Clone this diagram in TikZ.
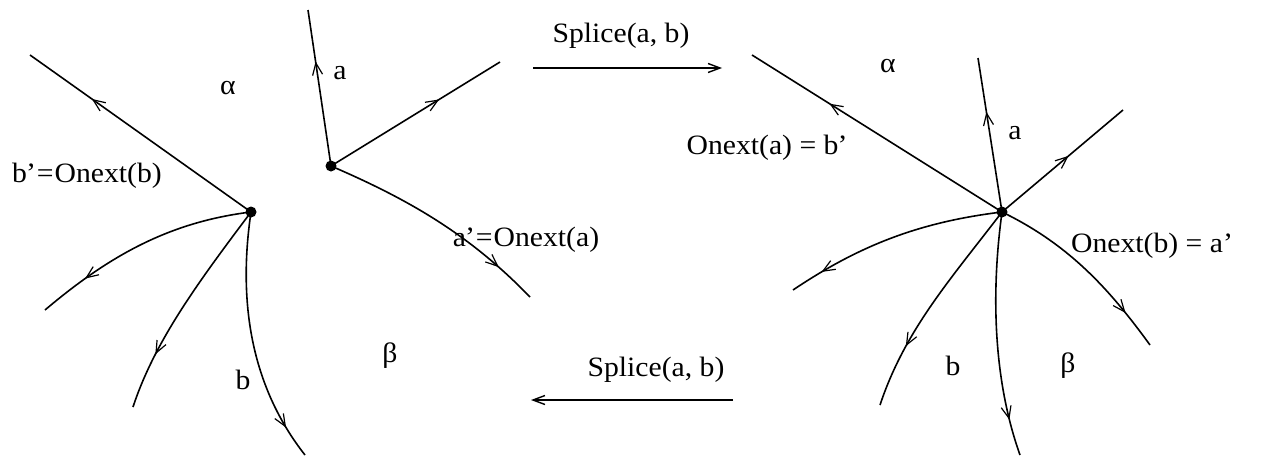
\documentclass[tikz,border=0pt]{standalone}
\usepackage{fontspec}
\setmainfont{Liberation Serif}[FakeStretch=1.06]
\usetikzlibrary{arrows.meta,decorations.markings}
\tikzset{
  x=1pt,y=-1pt,
  edge/.style={line width=1.6pt},
  midarr/.style={postaction={decorate},decoration={markings,mark=at position #1 with {\arrow{Straight Barb[length=12pt,width=10pt,line width=1.2pt]}}}},
  vdot/.style={circle,fill=black,inner sep=0pt,minimum size=11pt},
  lbl/.style={inner sep=0pt,font=\fontsize{28}{32}\selectfont},
  op/.style={line width=1.4pt,-{Straight Barb[length=12pt,width=9pt]}}
}
\begin{document}
\begin{tikzpicture}
\useasboundingbox (0,0) rectangle (1282,455);
% ---------- left diagram ----------
\node[vdot] (vl) at (251,212) {};
\node[vdot] (v2) at (331,166) {};
\coordinate (l1) at (30,55);
\coordinate (l2) at (45,310);
\coordinate (l3) at (133,407);
\coordinate (l4) at (305,455);
\coordinate (a1) at (308,10);
\coordinate (a2) at (500,62);
\coordinate (a3) at (530,297);
\draw[edge,midarr=0.72] (vl.center) -- (l1);
\draw[edge,midarr=0.78] (vl.center) .. controls (170,222) and (110,255) .. (l2);
\draw[edge,midarr=0.75] (vl.center) .. controls (200,280) and (155,340) .. (l3);
\draw[edge,midarr=0.87] (vl.center) .. controls (238,300) and (250,385) .. (l4);
\draw[edge,midarr=0.67] (v2.center) -- (a1);
\draw[edge,midarr=0.64] (v2.center) -- (a2);
\draw[edge,midarr=0.82] (v2.center) .. controls (410,200) and (470,235) .. (a3);
\node[lbl] (alphaL) at (228,88) {α};
\node[lbl] (betaL) at (390,356) {β};
\node[lbl] (la) at (340,73) {a};
\node[lbl] (lb) at (243,380) {b};
\node[lbl] (lbp) at (87,176) {b\kern-1pt\textquoteright{}\kern1pt=\kern1pt Onext(b)};
\node[lbl] (lap) at (526,240) {a\kern-1pt\textquoteright{}\kern1pt=\kern1pt Onext(a)};
% ---------- operation arrows ----------
\coordinate (s1a) at (533,68);
\coordinate (s1b) at (722,68);
\draw[op] (s1a) -- (s1b);
\node[lbl] (s1) at (621,36) {Splice(a, b)};
\coordinate (s2a) at (733,400);
\coordinate (s2b) at (531,400);
\draw[op] (s2a) -- (s2b);
\node[lbl] (s2) at (656,370) {Splice(a, b)};
% ---------- right diagram ----------
\node[vdot] (vr) at (1002,212) {};
\coordinate (r1) at (752,55);
\coordinate (r2) at (978,58);
\coordinate (r3) at (1123,110);
\coordinate (r4) at (1150,345);
\coordinate (r5) at (793,290);
\coordinate (r6) at (880,405);
\coordinate (r7) at (1020,455);
\draw[edge,midarr=0.69] (vr.center) -- (r1);
\draw[edge,midarr=0.65] (vr.center) -- (r2);
\draw[edge,midarr=0.55] (vr.center) -- (r3);
\draw[edge,midarr=0.8] (vr.center) .. controls (1070,245) and (1110,290) .. (r4);
\draw[edge,midarr=0.85] (vr.center) .. controls (920,222) and (860,245) .. (r5);
\draw[edge,midarr=0.72] (vr.center) .. controls (950,280) and (905,330) .. (r6);
\draw[edge,midarr=0.85] (vr.center) .. controls (990,300) and (995,385) .. (r7);
\node[lbl] (alphaR) at (888,66) {α};
\node[lbl] (betaR) at (1068,366) {β};
\node[lbl] (ra) at (1015,133) {a};
\node[lbl] (rb) at (953,366) {b};
\node[lbl] (rbp) at (767,148) {Onext(a) = b\kern-1pt\textquoteright};
\node[lbl] (rap) at (1152,246) {Onext(b) = a\textquoteright};
\end{tikzpicture}
\end{document}
